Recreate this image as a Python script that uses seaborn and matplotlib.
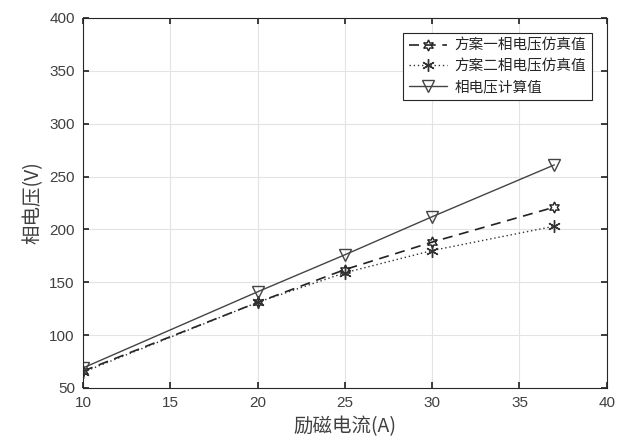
import matplotlib
matplotlib.use('Agg')
import matplotlib.pyplot as plt
import numpy as np
import seaborn as sns
import pandas as pd

# excitation current (A)
current = [10, 20, 25, 30, 37]
# phase voltage (V)
scheme1 = [66, 131, 162, 188, 221]
scheme2 = [65, 131, 159, 180, 203]
calc = [69, 141, 176, 212, 261]
names = ['方案一相电压仿真值', '方案二相电压仿真值', '相电压计算值']

sns.set_theme(style='whitegrid')
plt.rcParams['font.family'] = ['Liberation Sans', 'Noto Sans CJK SC', 'DejaVu Sans']

fig = plt.figure(figsize=(6.4, 4.48), dpi=100)
ax = fig.add_axes([0.13, 0.134, 0.818, 0.826])

df = pd.DataFrame({'I': current * 3,
                   'U': scheme1 + scheme2 + calc,
                   'name': [names[0]] * 5 + [names[1]] * 5 + [names[2]] * 5})

styles = {
    names[0]: dict(linestyle=(0, (6, 4)), marker=(6, 1, 0), color='#222222', lw=1.2, ms=8),
    names[1]: dict(linestyle=(0, (1, 2)), marker=(6, 2, 0), color='#333333', lw=1.0, ms=9),
    names[2]: dict(linestyle='-', marker='v', color='#444444', lw=1.0, ms=8.5),
}
for n in names:
    s = styles[n]
    sub = df[df['name'] == n]
    sns.lineplot(x='I', y='U', data=sub, ax=ax, label=n,
                 linestyle=s['linestyle'], marker=s['marker'], color=s['color'],
                 linewidth=s['lw'], markersize=s['ms'], markerfacecolor='none',
                 markeredgecolor=s['color'], markeredgewidth=1.0)

ax.set_xlim(10, 40)
ax.set_ylim(50, 400)
ax.set_xticks(range(10, 41, 5))
ax.set_yticks(range(50, 401, 50))
ax.grid(True, color='#e3e3e3', linewidth=0.8)
for sp in ax.spines.values():
    sp.set_visible(True)
    sp.set_color('#262626')
    sp.set_linewidth(0.8)
ax.tick_params(direction='in', length=4, colors='#262626', labelcolor='#404040',
               labelsize=11, top=True, right=True, bottom=True, left=True, pad=6)

ax.set_xlabel('励磁电流(A)', fontsize=14, color='#404040', labelpad=4,
              family=['Noto Sans CJK SC', 'DejaVu Sans'])
ax.set_ylabel('相电压(V)', fontsize=14, color='#404040', labelpad=4,
              family=['Noto Sans CJK SC', 'DejaVu Sans'])

leg = ax.legend(loc='upper right', bbox_to_anchor=(0.985, 0.98), fancybox=False,
                frameon=True, edgecolor='#262626', framealpha=1, handlelength=2.6,
                prop={'family': ['Noto Sans CJK SC', 'DejaVu Sans'], 'size': 10.5},
                borderpad=0.4, labelspacing=0.45, handletextpad=0.5)
leg.get_frame().set_linewidth(0.8)

fig.savefig('out.png', dpi=100)
